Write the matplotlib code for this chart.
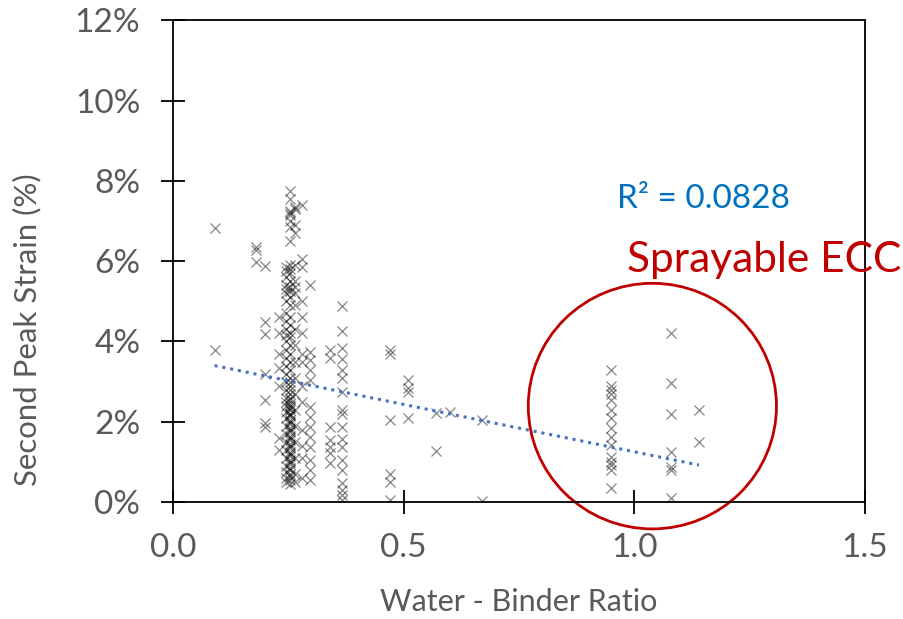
import numpy as np
import matplotlib.pyplot as plt
from matplotlib.patches import Ellipse

plt.rcParams['font.family'] = ['Lato', 'DejaVu Sans']

# water-binder ratio groups and the second peak strain values (%) measured for each
wb_groups = [0.09, 0.18, 0.20, 0.23, 0.245, 0.253, 0.265, 0.28, 0.297, 0.34, 0.367,
             0.47, 0.51, 0.57, 0.60, 0.67, 0.95, 1.08, 1.14]
strain_by_group = [
    [6.83, 3.78],
    [6.35, 6.27, 5.97],
    [5.87, 4.48, 4.18, 3.20, 2.53, 1.96, 1.87],
    [4.60, 4.20, 3.70, 3.35, 2.90, 1.60, 1.30],
    [5.85, 5.75, 5.60, 5.40, 5.30, 5.20, 5.00, 4.70, 4.50, 4.30, 4.15, 4.00, 3.80,
     3.60, 3.40, 3.20, 3.00, 2.80, 2.60, 2.50, 2.40, 2.25, 2.10, 1.90, 1.70, 1.50,
     1.30, 1.10, 0.90, 0.75, 0.60, 0.50],
    [7.75, 7.55, 7.25, 7.20, 7.15, 7.00, 6.85, 6.50, 5.90, 5.80, 5.70, 5.50, 5.35,
     5.25, 5.10, 4.90, 4.60, 4.40, 4.20, 4.10, 3.90, 3.70, 3.50, 3.30, 3.10, 2.90,
     2.70, 2.55, 2.45, 2.30, 2.20, 2.00, 1.80, 1.60, 1.40, 1.20, 1.00, 0.80, 0.70,
     0.55, 0.45,
     3.00, 2.80, 2.60, 2.40, 2.35, 2.20, 2.15, 2.05, 1.95, 1.85, 1.75, 1.65, 1.55,
     1.45, 1.35, 1.25, 1.15, 1.05, 0.95, 0.85, 0.65],
    [7.35, 7.30, 6.90, 6.70, 5.90, 5.50, 5.35, 5.20, 4.90, 4.30, 3.90, 3.50, 3.10,
     2.70, 2.30, 1.90, 1.50, 1.10, 0.70, 0.50],
    [7.40, 6.05, 5.85, 5.00, 4.60, 4.20, 3.70, 3.50, 2.90, 2.50, 1.80, 1.40, 1.10, 0.60],
    [5.40, 3.73, 3.54, 3.29, 3.04, 2.37, 2.12, 1.87, 1.62, 1.37, 1.05, 0.80, 0.55],
    [3.78, 3.60, 1.87, 1.54, 1.37, 1.22, 0.97],
    [4.88, 4.26, 3.83, 3.56, 3.29, 3.08, 2.74, 2.29, 2.20, 1.87, 1.57, 1.37, 1.05,
     0.80, 0.47, 0.30, 0.17, 0.05],
    [3.80, 3.70, 2.05, 0.70, 0.50, 0.05],
    [3.05, 2.85, 2.75, 2.10],
    [2.22, 1.27],
    [2.24],
    [2.04, 0.02],
    [3.30, 2.90, 2.78, 2.70, 2.53, 2.29, 2.09, 1.84, 1.62, 1.42, 1.12, 1.00, 0.92,
     0.80, 0.35],
    [4.20, 2.97, 2.20, 1.25, 0.87, 0.80, 0.10],
    [2.29, 1.49],
]

# linear trendline end points (ratio, strain %)
trend_x = [0.09, 1.14]
trend_y = [3.40, 0.92]
r2_label = 'R² = 0.0828'

x_ticks = [0.0, 0.5, 1.0, 1.5]
y_ticks = [0, 2, 4, 6, 8, 10, 12]

wb = np.concatenate([[g] * len(v) for g, v in zip(wb_groups, strain_by_group)])
strain = np.concatenate(strain_by_group)

fig = plt.figure(figsize=(9.04, 6.19), dpi=100)
ax = fig.add_axes([0.1914, 0.189, 0.7655, 0.778])

ax.plot(wb, strain, linestyle='none', marker='x', markersize=7.8, markeredgewidth=0.9,
        color='black', alpha=0.48)

ax.plot(trend_x, trend_y, linestyle=(0, (1, 1.6)), color='#4472C4', lw=2.2)

ax.set_xlim(0, 1.5)
ax.set_ylim(0, 12)
ax.set_xticks(x_ticks)
ax.set_xticklabels([f'{t:.1f}' for t in x_ticks])
ax.set_yticks(y_ticks)
ax.set_yticklabels([f'{t}%' for t in y_ticks])
ax.tick_params(direction='inout', length=17, width=1.3, colors='black',
               labelcolor='#595959', labelsize=24)
ax.tick_params(axis='x', pad=14)
ax.tick_params(axis='y', pad=15)
for s in ax.spines.values():
    s.set_linewidth(1.3)

ax.set_xlabel('Water - Binder Ratio', fontsize=22, color='#595959', va='center')
ax.xaxis.set_label_coords(0.5, -0.207)
ax.set_ylabel('Second Peak Strain (%)', fontsize=22.4, color='#595959', va='center')
ax.yaxis.set_label_coords(-0.211, 0.357)

ax.text(0.963, 7.54, r2_label, fontsize=24, color='#0070C0', va='center')
ax.text(0.985, 6.02, 'Sprayable ECC', fontsize=30.5, color='#C00000', va='center',
        clip_on=False)

ax.add_patch(Ellipse((1.039, 2.39), 0.538, 6.12, fill=False, edgecolor='#C00000',
                     lw=2, clip_on=False))

fig.savefig('out.png', dpi=100)
